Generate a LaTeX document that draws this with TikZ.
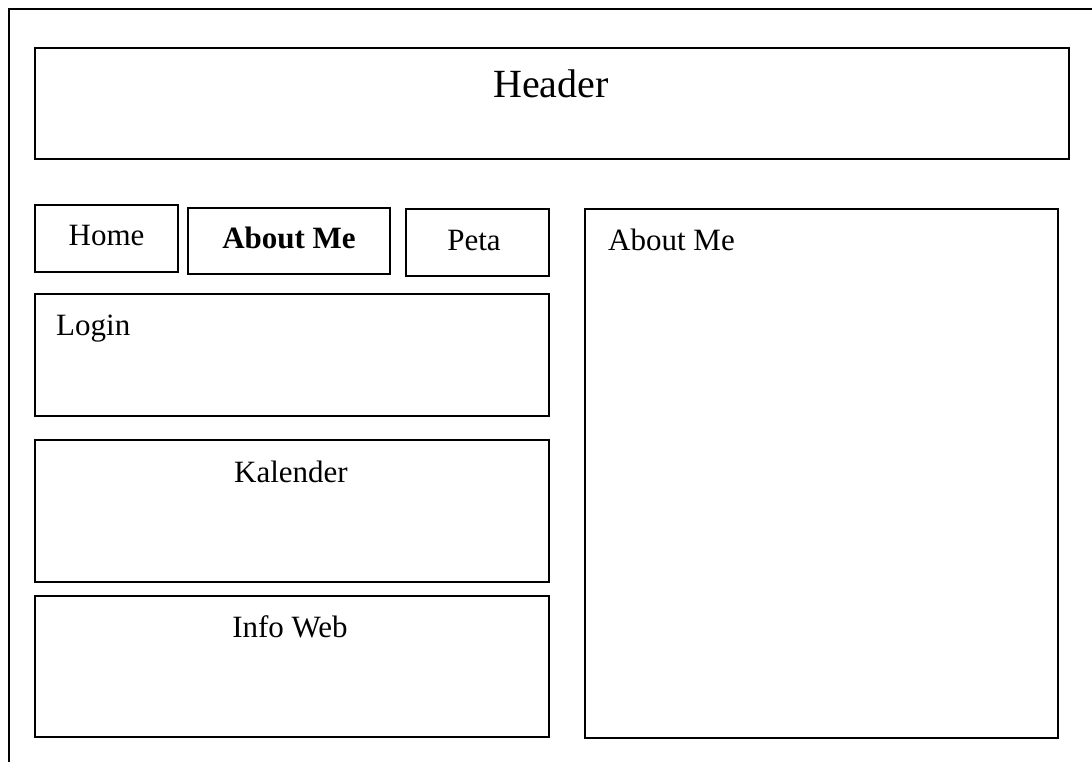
\documentclass[tikz,border=0pt]{standalone}
\usepackage{fontspec}
\setmainfont{Liberation Serif}
\tikzset{
  frame/.style={draw=black, line width=1.8pt, rectangle, inner sep=0pt, outer sep=0pt},
  body/.style={inner sep=0pt, font=\fontsize{31}{37}\selectfont},
  big/.style={inner sep=0pt, font=\fontsize{40}{48}\selectfont},
}
\begin{document}
\begin{tikzpicture}[x=1pt,y=-1pt]
\useasboundingbox (0,0) rectangle (1092,762);
% page outline (top and left edges only)
\coordinate (pr) at (1092,9);
\coordinate (pc) at (9,9);
\coordinate (pb) at (9,762);
\draw[line width=1.8pt] (pr) -- (pc) -- (pb);

% boxes
\node[frame, minimum width=1034pt, minimum height=111pt] (header) at (552,103.5) {};
\node[frame, minimum width=143pt, minimum height=67pt] (home) at (106.5,238.5) {};
\node[frame, minimum width=202pt, minimum height=66pt] (aboutbtn) at (289,241) {};
\node[frame, minimum width=143pt, minimum height=67pt] (peta) at (477.5,242.5) {};
\node[frame, minimum width=514pt, minimum height=122pt] (login) at (292,355) {};
\node[frame, minimum width=514pt, minimum height=142pt] (kalender) at (292,511) {};
\node[frame, minimum width=514pt, minimum height=141pt] (infoweb) at (292,666.5) {};
\node[frame, minimum width=473pt, minimum height=529pt] (content) at (821.5,473.5) {};

% labels
\node[big, anchor=base] (headert) at (551,98) {Header};
\node[body, anchor=base] (homet) at (106.5,245) {Home};
\node[body, anchor=base] (aboutbtnt) at (289,248) {\bfseries About Me};
\node[body, anchor=base] (petat) at (474,250) {Peta};
\node[body, anchor=base west] (logint) at (56,335) {Login};
\node[body, anchor=base] (kalendert) at (291,482) {Kalender};
\node[body, anchor=base] (infowebt) at (290,637) {Info Web};
\node[body, anchor=base west] (contentt) at (608,250) {About Me};
\end{tikzpicture}
\end{document}
